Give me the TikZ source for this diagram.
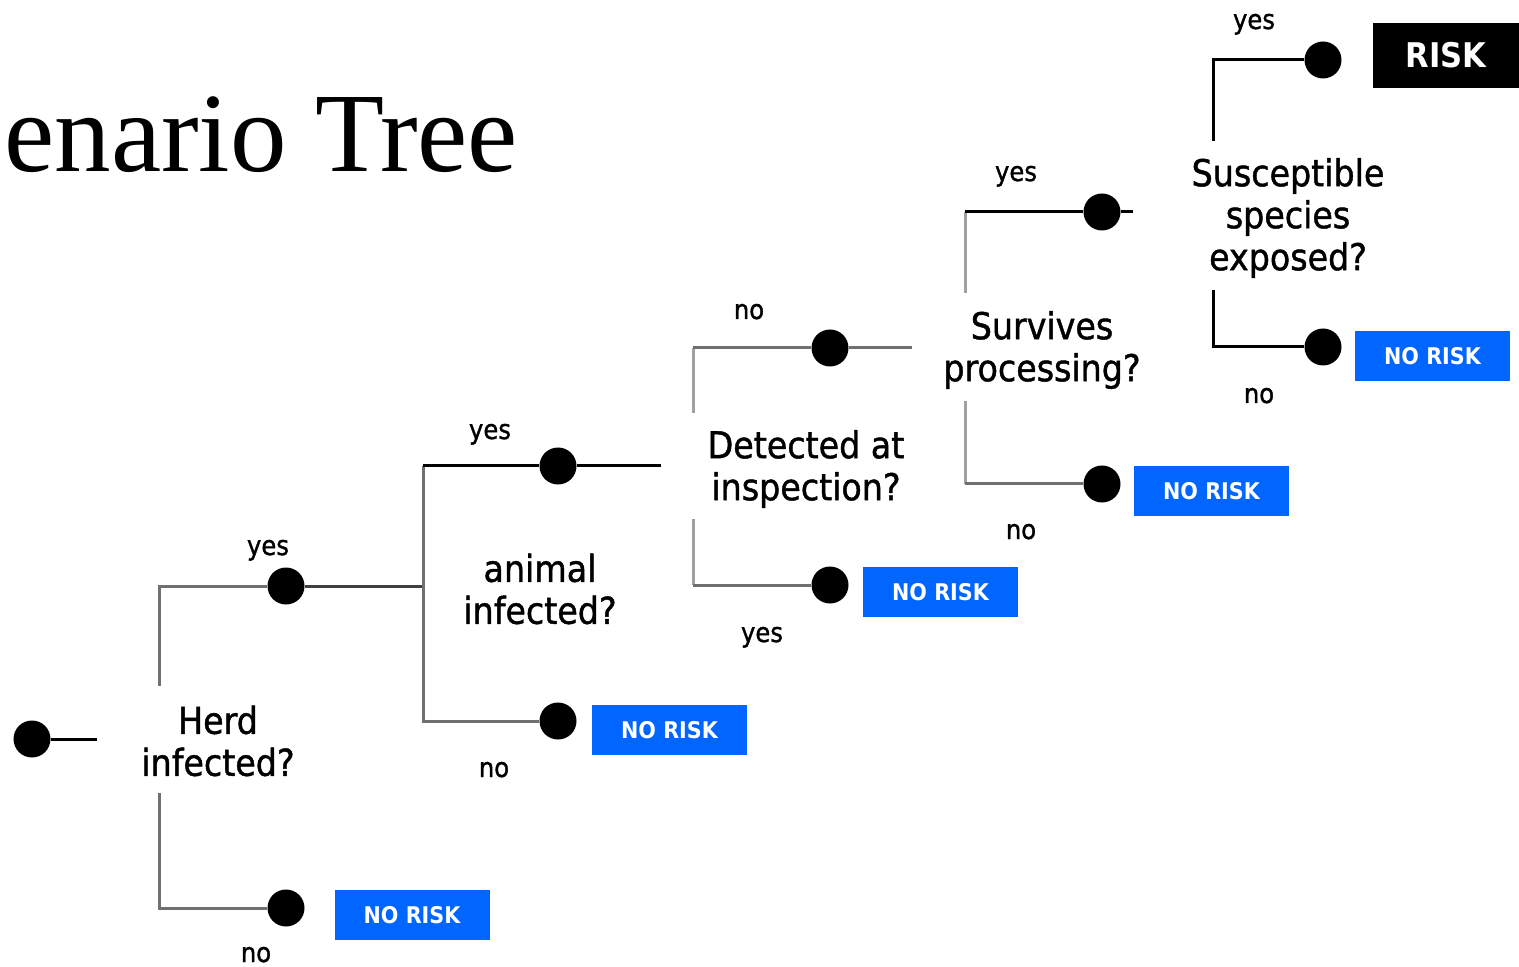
\documentclass[tikz,border=0pt]{standalone}
\usepackage{fontspec}
\setmainfont{Liberation Serif}
\newfontfamily\qfont[FakeStretch=0.9]{DejaVu Sans}
\newfontfamily\qfontheavy[FakeStretch=0.9, FakeBold=1.2]{DejaVu Sans}
\definecolor{nrblue}{RGB}{0,102,255}
\definecolor{gA}{RGB}{112,112,112}
\definecolor{gB}{RGB}{160,160,160}
\definecolor{gC}{RGB}{64,64,64}
\tikzset{
  dot/.style={circle, fill=black, minimum size=18.5pt, inner sep=0pt},
  quest/.style={font=\qfontheavy\fontsize{18.5}{21}\selectfont, align=center, inner sep=0pt},
  lab/.style={font=\qfontheavy\fontsize{13.5}{15}\selectfont, inner sep=0pt, anchor=base},
  norisk/.style={fill=nrblue, text=white, font=\qfont\bfseries\fontsize{11.5}{13}\selectfont, minimum width=77.5pt, minimum height=25pt, inner sep=0pt},
  riskbox/.style={fill=black, text=white, font=\qfont\bfseries\fontsize{17}{19}\selectfont, minimum width=73pt, minimum height=32.5pt, inner sep=0pt},
  ln/.style={line width=1.5pt},
}
\begin{document}
\begin{tikzpicture}[x=0.5pt, y=-0.5pt]
\useasboundingbox (0,0) rectangle (1519,967);

% title
\node[anchor=base west, inner sep=0pt, font=\fontsize{56.5}{60}\selectfont] (title) at (4,172) {enario Tree};

% question texts
\node[quest] (herd) at (218,741) {Herd\\infected?};
\node[quest] (animal) at (540,589) {animal\\infected?};
\node[quest] (detect) at (806,469) {Detected at\\inspection?};
\node[quest] (surv) at (1042,350) {Survives\\processing?};
\node[quest] (susc) at (1288,218) {Susceptible\\species\\exposed?};

% dots
\node[dot] (d0) at (32,739) {};
\node[dot] (h-y) at (286,586) {};
\node[dot] (h-n) at (286,908) {};
\node[dot] (a-y) at (558,466) {};
\node[dot] (a-n) at (558,721) {};
\node[dot] (t-n) at (830,348) {};
\node[dot] (t-y) at (830,585) {};
\node[dot] (s-y) at (1102,212) {};
\node[dot] (s-n) at (1102,484) {};
\node[dot] (e-y) at (1323,60) {};
\node[dot] (e-n) at (1323,347) {};

% outcome boxes
\node[norisk] (nr1) at (412,915) {NO RISK};
\node[norisk] (nr2) at (669.5,730) {NO RISK};
\node[norisk] (nr3) at (940.5,592) {NO RISK};
\node[norisk] (nr4) at (1211.5,491) {NO RISK};
\node[norisk] (nr5) at (1432.5,356) {NO RISK};
\node[riskbox] (risk) at (1446,55.5) {RISK};

% corner coordinates
\coordinate (d0-end) at (97,739);
\coordinate (h-top) at (159,686);
\coordinate (h-yc) at (159,586);
\coordinate (h-bot) at (159,793);
\coordinate (h-nc) at (159,908);
\coordinate (a-mid) at (423,586);
\coordinate (a-yc) at (423,466);
\coordinate (a-nc) at (423,721);
\coordinate (a-end) at (661,466);
\coordinate (t-top) at (693,413);
\coordinate (t-nc) at (693,348);
\coordinate (t-bot) at (693,519);
\coordinate (t-yc) at (693,585);
\coordinate (t-end) at (912,348);
\coordinate (s-top) at (965,293);
\coordinate (s-yc) at (965,212);
\coordinate (s-bot) at (965,401);
\coordinate (s-nc) at (965,484);
\coordinate (s-end) at (1133,212);
\coordinate (e-top) at (1213,141);
\coordinate (e-yc) at (1213,60);
\coordinate (e-bot) at (1213,290);
\coordinate (e-nc) at (1213,347);

% connectors
\draw[ln, black] (d0) -- (d0-end);
\draw[ln, gA] (h-top) -- (h-yc) -- (h-y);
\draw[ln, gC] (h-y) -- (a-mid);
\draw[ln, gA] (h-bot) -- (h-nc) -- (h-n);
\draw[ln, gA] (a-yc) -- (a-nc) -- (a-n);
\draw[ln, black] (a-yc) -- (a-y);
\draw[ln, black] (a-y) -- (a-end);
\draw[ln, gB] (t-top) -- (t-nc);
\draw[ln, gA] (t-nc) -- (t-n);
\draw[ln, gA] (t-n) -- (t-end);
\draw[ln, gB] (t-bot) -- (t-yc);
\draw[ln, gA] (t-yc) -- (t-y);
\draw[ln, gB] (s-top) -- (s-yc);
\draw[ln, black] (s-yc) -- (s-y);
\draw[ln, black] (s-y) -- (s-end);
\draw[ln, gB] (s-bot) -- (s-nc);
\draw[ln, gA] (s-nc) -- (s-n);
\draw[ln, black] (e-top) -- (e-yc) -- (e-y);
\draw[ln, black] (e-bot) -- (e-nc) -- (e-n);

% branch labels
\node[lab] (l1) at (268,555) {yes};
\node[lab] (l2) at (256,962) {no};
\node[lab] (l3) at (490,439) {yes};
\node[lab] (l4) at (494,777) {no};
\node[lab] (l5) at (749,319) {no};
\node[lab] (l6) at (762,642) {yes};
\node[lab] (l7) at (1016,181) {yes};
\node[lab] (l8) at (1021,539) {no};
\node[lab] (l9) at (1254,29) {yes};
\node[lab] (l10) at (1259,403) {no};
\end{tikzpicture}
\end{document}
